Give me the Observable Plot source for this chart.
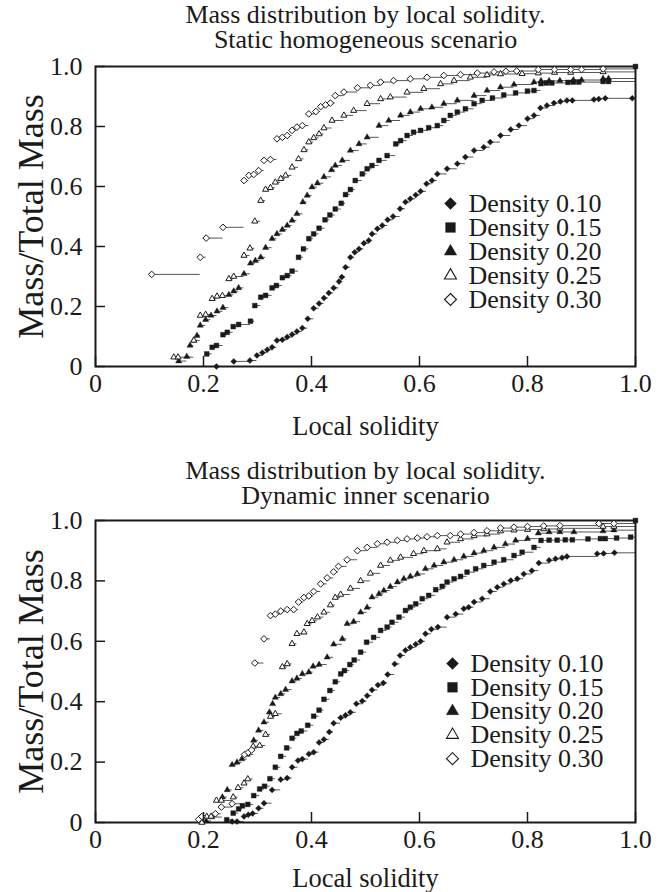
<!DOCTYPE html>
<html><head><meta charset="utf-8">
<script src="https://cdn.jsdelivr.net/npm/d3@7"></script>
<script src="https://cdn.jsdelivr.net/npm/@observablehq/plot@0.6"></script>
<style>
body{margin:0;background:#fff;}
#chart svg{display:block;background:#fff;}
#chart svg, #chart svg text, #chart svg tspan{font-family:"Liberation Serif","Times New Roman",Times,serif !important;}
</style></head><body><div id="chart"></div>
<script>
const seriesNames = ["Density 0.10","Density 0.15","Density 0.20","Density 0.25","Density 0.30"];
const xTicks = [0, 0.2, 0.4, 0.6, 0.8, 1.0];
const yTicks = [0, 0.2, 0.4, 0.6, 0.8, 1.0];
const xLabel = "Local solidity";
const yLabel = "Mass/Total Mass";
const titleTop = "Mass distribution by local solidity.\nStatic homogeneous scenario";
const titleBottom = "Mass distribution by local solidity.\nDynamic inner scenario";

// Static homogeneous scenario: [local solidity, mass fraction]
const staticD10 = [[0.224,0.0],[0.256,0.017],[0.286,0.02],[0.299,0.037],[0.309,0.046],[0.318,0.056],[0.327,0.064],[0.336,0.087],[0.346,0.089],[0.355,0.098],[0.364,0.107],[0.373,0.117],[0.383,0.128],[0.393,0.159],[0.404,0.194],[0.414,0.21],[0.423,0.228],[0.432,0.245],[0.441,0.262],[0.451,0.283],[0.456,0.298],[0.463,0.331],[0.472,0.364],[0.48,0.381],[0.488,0.392],[0.497,0.411],[0.506,0.42],[0.512,0.442],[0.522,0.459],[0.531,0.47],[0.541,0.489],[0.551,0.5],[0.564,0.526],[0.574,0.548],[0.583,0.559],[0.593,0.572],[0.602,0.584],[0.613,0.609],[0.623,0.62],[0.633,0.642],[0.651,0.659],[0.67,0.676],[0.685,0.698],[0.701,0.72],[0.719,0.731],[0.731,0.748],[0.75,0.77],[0.769,0.79],[0.784,0.803],[0.8,0.826],[0.812,0.837],[0.824,0.862],[0.836,0.87],[0.849,0.878],[0.861,0.883],[0.873,0.887],[0.883,0.887],[0.923,0.89],[0.932,0.892],[0.944,0.894],[0.994,0.894]];
const staticD15 = [[0.206,0.042],[0.216,0.064],[0.224,0.07],[0.236,0.106],[0.244,0.114],[0.255,0.133],[0.265,0.14],[0.287,0.151],[0.295,0.203],[0.306,0.231],[0.315,0.237],[0.327,0.262],[0.335,0.27],[0.346,0.296],[0.355,0.303],[0.364,0.318],[0.376,0.364],[0.385,0.392],[0.395,0.426],[0.404,0.442],[0.414,0.461],[0.425,0.489],[0.434,0.505],[0.444,0.525],[0.455,0.544],[0.463,0.573],[0.472,0.59],[0.481,0.62],[0.494,0.642],[0.503,0.659],[0.512,0.67],[0.525,0.687],[0.54,0.703],[0.556,0.742],[0.565,0.753],[0.577,0.77],[0.589,0.781],[0.602,0.787],[0.617,0.796],[0.633,0.803],[0.645,0.82],[0.657,0.837],[0.67,0.848],[0.685,0.859],[0.701,0.876],[0.716,0.887],[0.735,0.895],[0.756,0.905],[0.778,0.912],[0.8,0.918],[0.812,0.92],[0.825,0.943],[0.835,0.945],[0.845,0.945],[0.875,0.947],[0.885,0.948],[0.895,0.948],[0.94,0.95],[0.95,0.95],[1.0,1.0]];
const staticD20 = [[0.154,0.018],[0.169,0.033],[0.175,0.07],[0.182,0.087],[0.188,0.103],[0.194,0.137],[0.204,0.156],[0.214,0.17],[0.225,0.184],[0.236,0.196],[0.247,0.239],[0.256,0.251],[0.265,0.262],[0.275,0.309],[0.287,0.344],[0.296,0.353],[0.306,0.364],[0.315,0.396],[0.327,0.426],[0.336,0.442],[0.346,0.456],[0.355,0.47],[0.364,0.487],[0.373,0.509],[0.384,0.548],[0.392,0.57],[0.401,0.598],[0.411,0.611],[0.423,0.632],[0.437,0.655],[0.444,0.67],[0.457,0.687],[0.472,0.72],[0.488,0.742],[0.503,0.764],[0.525,0.803],[0.543,0.82],[0.565,0.837],[0.583,0.848],[0.602,0.859],[0.623,0.864],[0.645,0.876],[0.67,0.887],[0.701,0.903],[0.725,0.92],[0.75,0.931],[0.775,0.94],[0.812,0.948],[0.825,0.952],[0.84,0.952],[0.86,0.953],[0.885,0.955],[0.9,0.955],[0.94,0.96],[0.95,0.96]];
const staticD25 = [[0.145,0.031],[0.153,0.031],[0.182,0.087],[0.194,0.17],[0.204,0.173],[0.216,0.226],[0.225,0.234],[0.235,0.236],[0.247,0.292],[0.256,0.3],[0.275,0.37],[0.286,0.394],[0.295,0.484],[0.306,0.553],[0.315,0.59],[0.324,0.596],[0.333,0.614],[0.343,0.626],[0.352,0.637],[0.364,0.664],[0.376,0.692],[0.386,0.722],[0.395,0.748],[0.404,0.762],[0.414,0.775],[0.423,0.795],[0.438,0.82],[0.46,0.837],[0.478,0.853],[0.503,0.876],[0.528,0.892],[0.546,0.898],[0.577,0.914],[0.608,0.926],[0.639,0.942],[0.664,0.953],[0.694,0.964],[0.725,0.972],[0.75,0.975],[0.79,0.976],[0.82,0.978],[0.85,0.98],[0.88,0.98],[0.94,0.982]];
const staticD30 = [[0.104,0.307],[0.194,0.364],[0.205,0.428],[0.236,0.464],[0.275,0.62],[0.284,0.637],[0.293,0.64],[0.302,0.653],[0.312,0.687],[0.324,0.69],[0.336,0.759],[0.346,0.764],[0.355,0.77],[0.364,0.787],[0.373,0.798],[0.383,0.803],[0.395,0.842],[0.408,0.85],[0.417,0.866],[0.426,0.872],[0.435,0.878],[0.444,0.903],[0.46,0.915],[0.485,0.929],[0.509,0.937],[0.528,0.948],[0.552,0.953],[0.583,0.959],[0.614,0.964],[0.645,0.97],[0.676,0.973],[0.707,0.978],[0.738,0.982],[0.76,0.984],[0.78,0.985],[0.82,0.99],[0.85,0.99],[0.88,0.99],[0.9,0.99],[0.94,0.992]];

// Dynamic inner scenario
const dynamicD10 = [[0.253,0.003],[0.262,0.003],[0.275,0.02],[0.283,0.026],[0.291,0.03],[0.302,0.047],[0.312,0.064],[0.327,0.108],[0.343,0.142],[0.355,0.147],[0.364,0.183],[0.375,0.205],[0.383,0.21],[0.395,0.227],[0.404,0.233],[0.414,0.265],[0.423,0.275],[0.433,0.3],[0.441,0.329],[0.454,0.347],[0.463,0.355],[0.472,0.365],[0.483,0.393],[0.494,0.402],[0.503,0.42],[0.512,0.439],[0.523,0.455],[0.533,0.462],[0.541,0.49],[0.554,0.525],[0.564,0.553],[0.574,0.57],[0.583,0.58],[0.593,0.59],[0.602,0.6],[0.611,0.625],[0.622,0.64],[0.634,0.647],[0.651,0.68],[0.667,0.69],[0.682,0.708],[0.691,0.713],[0.701,0.73],[0.716,0.741],[0.731,0.765],[0.744,0.779],[0.756,0.79],[0.769,0.801],[0.781,0.807],[0.793,0.823],[0.808,0.834],[0.821,0.859],[0.84,0.868],[0.852,0.873],[0.864,0.877],[0.873,0.881],[0.929,0.89],[0.941,0.891],[0.961,0.893]];
const dynamicD15 = [[0.243,0.009],[0.255,0.031],[0.265,0.045],[0.272,0.055],[0.282,0.06],[0.293,0.089],[0.304,0.111],[0.313,0.12],[0.323,0.145],[0.333,0.183],[0.343,0.219],[0.354,0.247],[0.364,0.279],[0.373,0.295],[0.381,0.303],[0.393,0.322],[0.404,0.352],[0.414,0.372],[0.423,0.408],[0.434,0.437],[0.444,0.466],[0.454,0.492],[0.461,0.503],[0.471,0.523],[0.479,0.538],[0.491,0.564],[0.502,0.597],[0.515,0.613],[0.528,0.636],[0.54,0.647],[0.549,0.663],[0.562,0.68],[0.574,0.702],[0.583,0.713],[0.593,0.724],[0.605,0.741],[0.617,0.752],[0.63,0.771],[0.642,0.782],[0.651,0.796],[0.664,0.807],[0.676,0.815],[0.688,0.829],[0.704,0.84],[0.719,0.851],[0.738,0.862],[0.756,0.87],[0.775,0.884],[0.79,0.895],[0.812,0.911],[0.825,0.934],[0.84,0.935],[0.855,0.935],[0.87,0.936],[0.883,0.936],[0.912,0.939],[0.935,0.94],[0.944,0.94],[0.965,0.942],[0.991,0.945],[1.0,1.0]];
const dynamicD20 = [[0.205,0.005],[0.215,0.018],[0.235,0.084],[0.244,0.108],[0.253,0.191],[0.262,0.199],[0.271,0.21],[0.281,0.225],[0.293,0.272],[0.302,0.305],[0.312,0.332],[0.322,0.365],[0.328,0.393],[0.333,0.414],[0.343,0.426],[0.352,0.44],[0.364,0.468],[0.373,0.477],[0.383,0.492],[0.395,0.498],[0.403,0.517],[0.414,0.523],[0.429,0.547],[0.441,0.59],[0.457,0.608],[0.466,0.658],[0.478,0.665],[0.491,0.696],[0.503,0.712],[0.512,0.746],[0.525,0.757],[0.534,0.768],[0.546,0.781],[0.559,0.796],[0.571,0.807],[0.583,0.815],[0.596,0.823],[0.611,0.84],[0.627,0.851],[0.645,0.862],[0.664,0.87],[0.682,0.881],[0.701,0.892],[0.719,0.9],[0.738,0.911],[0.759,0.922],[0.778,0.934],[0.8,0.94],[0.82,0.958],[0.84,0.962],[0.86,0.962],[0.886,0.962],[0.94,0.965],[0.96,0.968]];
const dynamicD25 = [[0.197,0.0],[0.206,0.02],[0.214,0.02],[0.224,0.073],[0.233,0.073],[0.255,0.084],[0.264,0.115],[0.275,0.13],[0.282,0.144],[0.292,0.252],[0.304,0.255],[0.315,0.291],[0.324,0.351],[0.333,0.36],[0.346,0.515],[0.355,0.525],[0.364,0.592],[0.373,0.625],[0.386,0.63],[0.392,0.658],[0.401,0.668],[0.411,0.68],[0.423,0.696],[0.435,0.72],[0.444,0.745],[0.454,0.755],[0.472,0.775],[0.491,0.8],[0.509,0.825],[0.528,0.851],[0.546,0.868],[0.565,0.878],[0.589,0.89],[0.608,0.9],[0.633,0.906],[0.651,0.928],[0.676,0.939],[0.701,0.949],[0.725,0.955],[0.75,0.965],[0.775,0.968],[0.8,0.97],[0.83,0.972],[0.86,0.974],[0.94,0.98],[0.96,0.98]];
const dynamicD30 = [[0.191,0.01],[0.197,0.02],[0.222,0.029],[0.233,0.051],[0.253,0.062],[0.276,0.225],[0.283,0.232],[0.289,0.24],[0.295,0.528],[0.312,0.608],[0.324,0.685],[0.333,0.69],[0.343,0.7],[0.355,0.705],[0.367,0.705],[0.376,0.73],[0.386,0.745],[0.395,0.75],[0.404,0.765],[0.417,0.79],[0.429,0.81],[0.441,0.83],[0.45,0.848],[0.466,0.87],[0.485,0.9],[0.503,0.911],[0.522,0.923],[0.54,0.928],[0.559,0.934],[0.577,0.939],[0.596,0.942],[0.614,0.946],[0.633,0.95],[0.657,0.95],[0.676,0.955],[0.701,0.96],[0.725,0.966],[0.75,0.975],[0.775,0.978],[0.8,0.98],[0.83,0.982],[0.86,0.983],[0.932,0.99],[0.96,0.99]];

const symbols = ["diamond2", "square", "triangle", "triangle2", "diamond2"];
const filled = [true, true, true, false, false];
const dotR = [2.7, 2.7, 2.3, 2.9, 3.0];
const legendR = [5.4, 5.5, 4.6, 5.7, 5.4];

const FONT = "'Liberation Serif', 'Times New Roman', Times, serif";
const INK = "#1a1a1a";
const fmt = d => d === 0 ? "0" : d.toFixed(1);

function panel(series, title, o) {
  const marks = [];
  // step segments (horizontal run from each point to the next)
  series.forEach((pts) => {
    const segs = pts.map((p, i) => ({x1: p[0], x2: i < pts.length - 1 ? pts[i + 1][0] : 1, y: p[1]}));
    marks.push(Plot.ruleY(segs, {y: "y", x1: "x1", x2: "x2", stroke: "#444", strokeWidth: 0.9}));
  });
  marks.push(Plot.frame({stroke: INK, strokeWidth: 2}));
  series.forEach((pts, i) => {
    marks.push(Plot.dot(pts, {
      x: d => d[0], y: d => d[1], symbol: symbols[i], r: dotR[i],
      fill: filled[i] ? INK : "white", stroke: INK, strokeWidth: filled[i] ? 0.4 : 1
    }));
  });
  marks.push(Plot.axisX({ticks: xTicks, tickSize: -10, tickPadding: 17, tickFormat: fmt, label: null, fontSize: 26, fontFamily: FONT, fill: INK, stroke: INK, strokeWidth: 1.5}));
  marks.push(Plot.axisY({ticks: yTicks, tickSize: -10, tickPadding: 23, tickFormat: fmt, label: null, fontSize: 26, fontFamily: FONT, fill: INK, stroke: INK, strokeWidth: 1.5}));
  marks.push(Plot.text([title], {frameAnchor: "top", dy: o.titleDy, lineAnchor: "bottom", lineHeight: 0.94, fontSize: 26, fontFamily: FONT, fill: INK}));
  marks.push(Plot.text([xLabel], {frameAnchor: "bottom", dy: o.xLabelDy, lineAnchor: "bottom", fontSize: 26.5, fontFamily: FONT, fill: INK}));
  marks.push(Plot.text([yLabel], {frameAnchor: "left", dx: -64, rotate: -90, textAnchor: "middle", lineAnchor: "middle", fontSize: 36, fontFamily: FONT, fill: INK}));
  seriesNames.forEach((name, i) => {
    marks.push(Plot.dot([name], {frameAnchor: "top-left", dx: o.legX, dy: o.legY + i * o.legStep, symbol: symbols[i], r: legendR[i], fill: filled[i] ? INK : "white", stroke: INK, strokeWidth: filled[i] ? 0.4 : 1.1}));
    marks.push(Plot.text([name], {frameAnchor: "top-left", dx: o.legX + 18, dy: o.legY + i * o.legStep, textAnchor: "start", lineAnchor: "middle", fontSize: 26, fontFamily: FONT, fill: INK}));
  });
  return Plot.plot({
    width: 660, height: 446,
    marginLeft: 95, marginRight: 25, marginTop: o.mt, marginBottom: o.mb,
    x: {domain: [0, 1]}, y: {domain: [0, 1]},
    style: {fontFamily: FONT, fontSize: "26px", color: INK, background: "white"},
    marks
  });
}

const el = document.getElementById("chart");
el.append(panel([staticD10, staticD15, staticD20, staticD25, staticD30], titleTop,
  {mt: 66, mb: 80, titleDy: -19, xLabelDy: 68, legX: 355, legY: 137, legStep: 24}));
el.append(panel([dynamicD10, dynamicD15, dynamicD20, dynamicD25, dynamicD30], titleBottom,
  {mt: 74, mb: 70, titleDy: -17, xLabelDy: 64, legX: 357, legY: 143, legStep: 23.8}));
</script></body></html>
